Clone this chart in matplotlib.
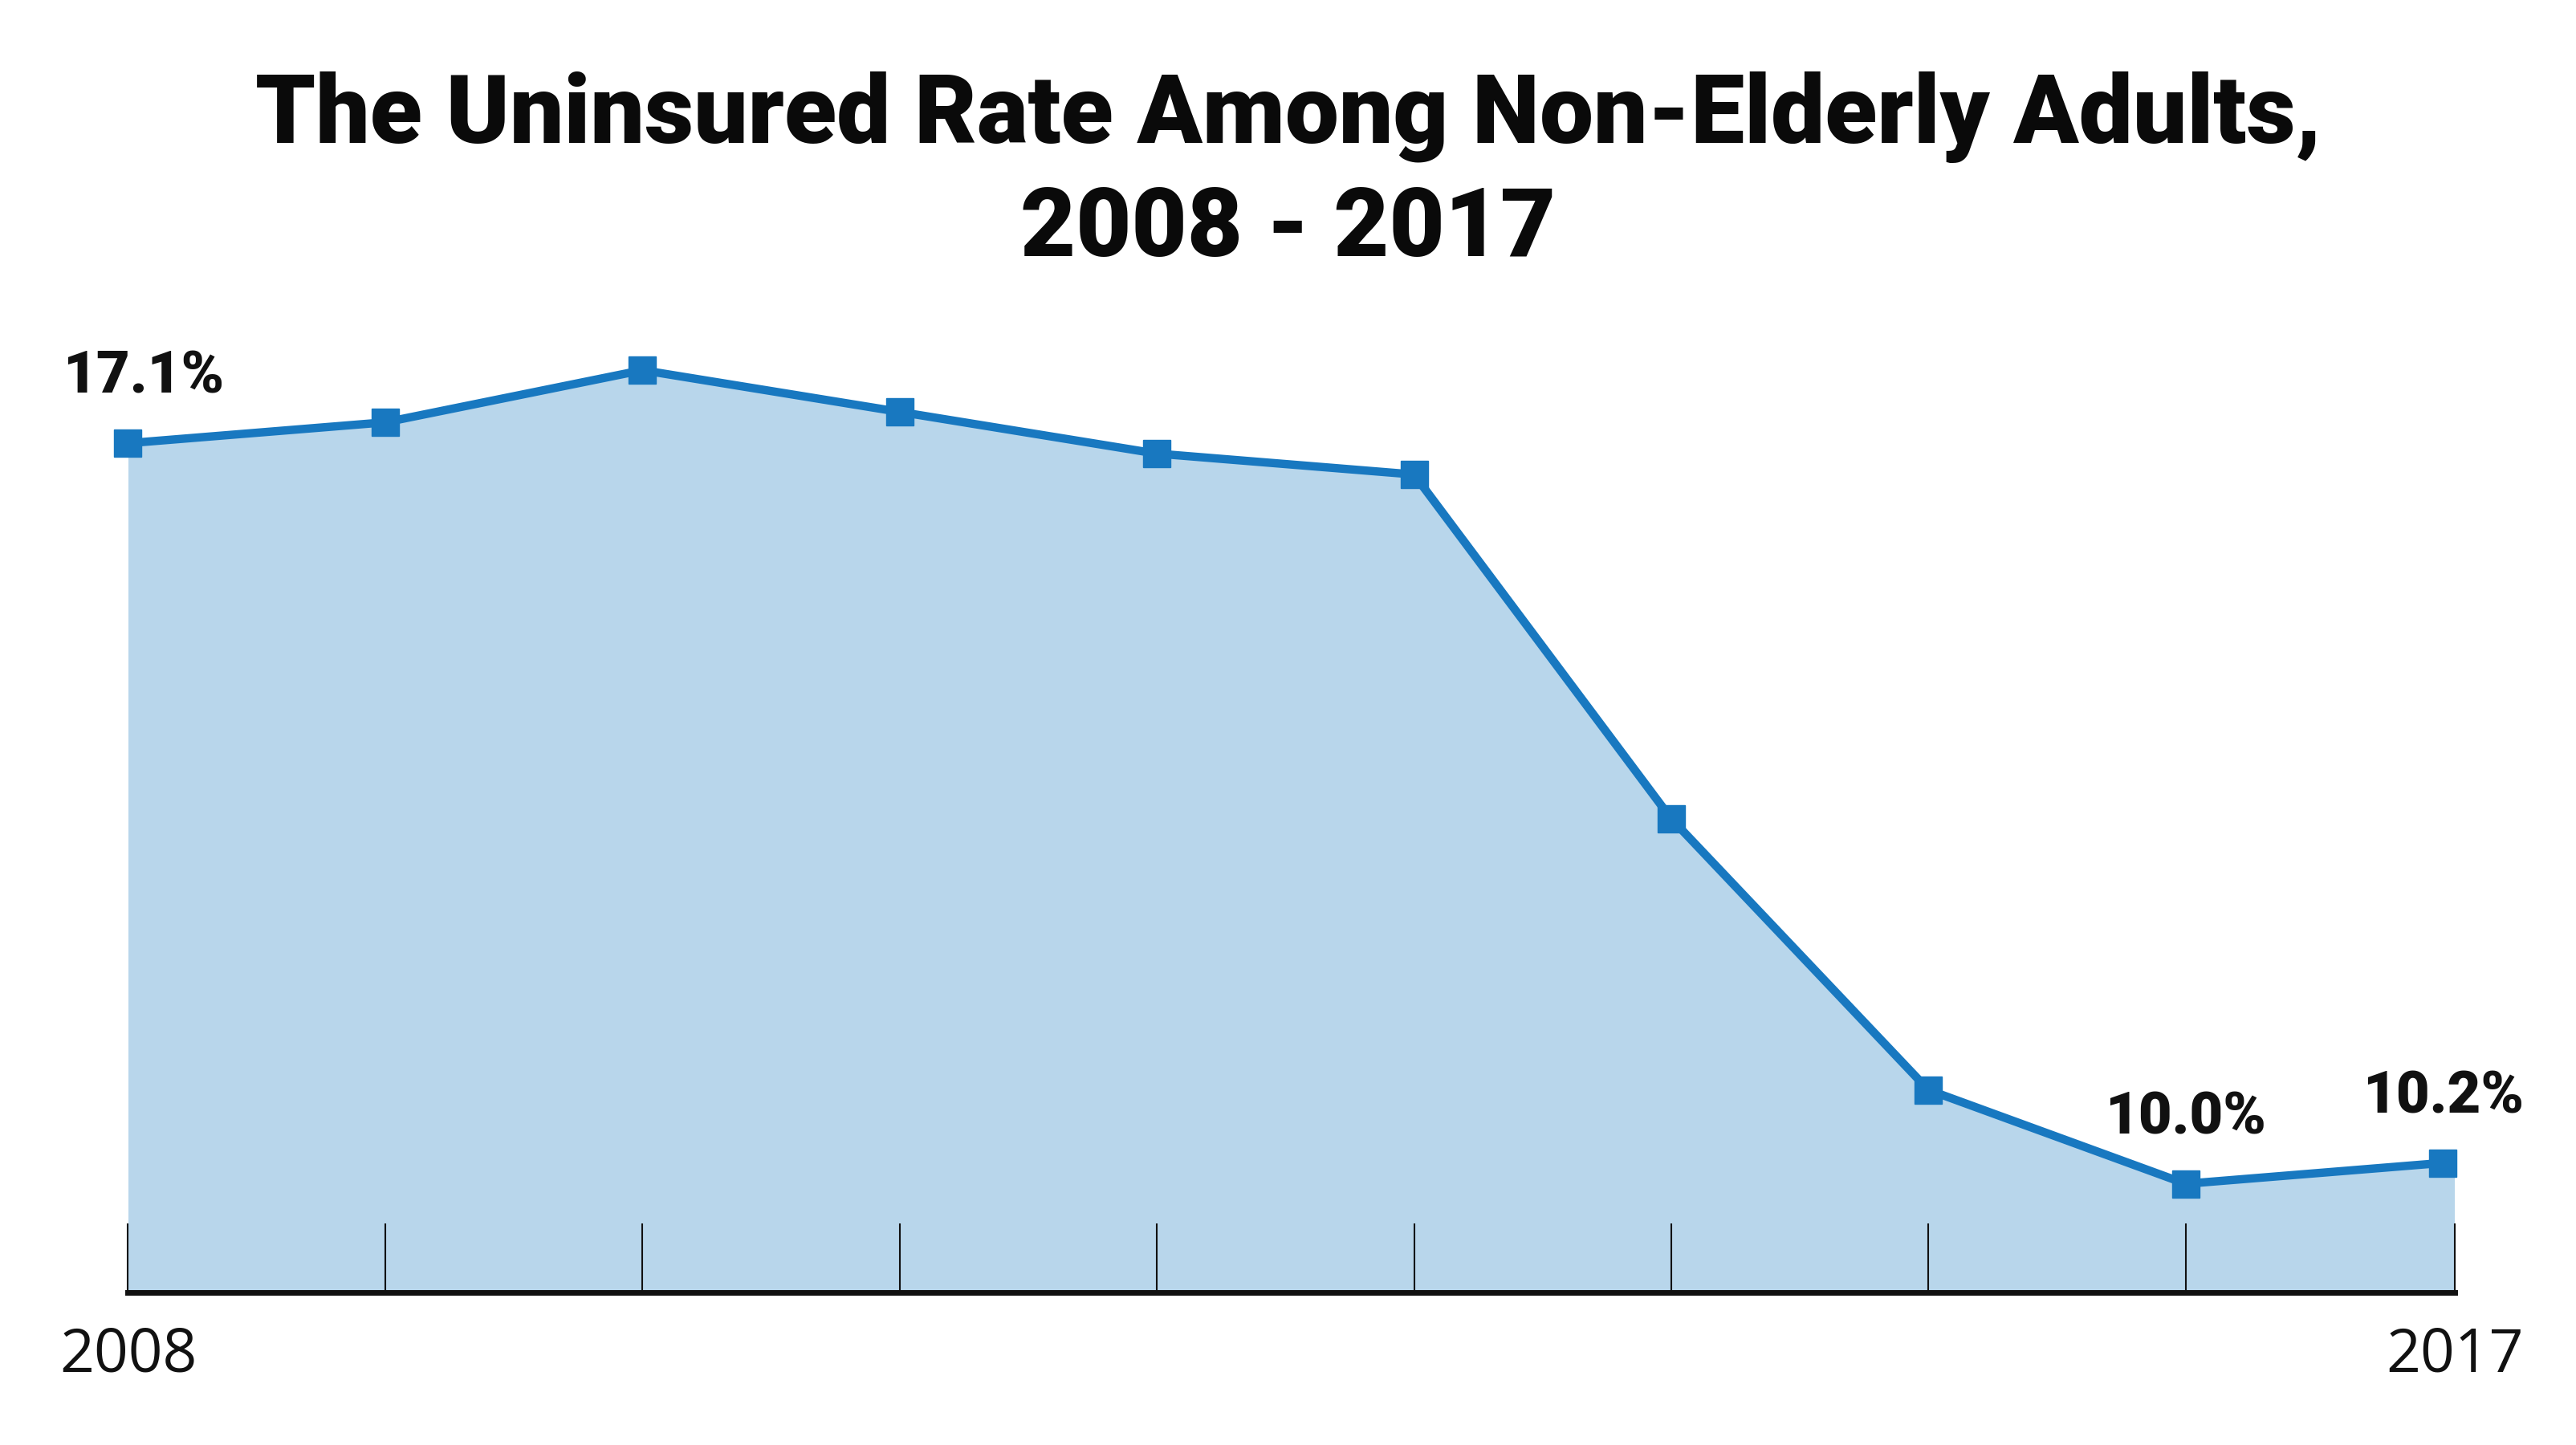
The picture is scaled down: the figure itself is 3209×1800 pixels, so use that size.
import numpy as np
import matplotlib
matplotlib.use('Agg')
import matplotlib.pyplot as plt

years = [2008, 2009, 2010, 2011, 2012, 2013, 2014, 2015, 2016, 2017]
rates = [17.1, 17.3, 17.8, 17.4, 17.0, 16.8, 13.5, 10.9, 10.0, 10.2]
labelled = {2008: '17.1%', 2016: '10.0%', 2017: '10.2%'}
tick_labels = ['2008', '', '', '', '', '', '', '', '', '2017']

line_color = '#1878c0'
fill_color = '#b8d6eb'

fig = plt.figure(figsize=(32.09, 18), dpi=100)
ax = fig.add_axes([0.0497, 0.1057, 0.9031, 0.667])

x_right = 2017.045
ax.set_xlim(years[0], x_right)
ax.set_ylim(8.96, 18.2)

# fill runs to the right edge of the axis
fill_x = np.append(years, x_right)
fill_y = np.append(rates, rates[-1])
ax.fill_between(fill_x, fill_y, 8.96, color=fill_color, linewidth=0, zorder=1)
ax.plot(years, rates, color=line_color, linewidth=7.5, marker='s',
        markersize=24, zorder=3, clip_on=False)

for yr, txt in labelled.items():
    v = rates[years.index(yr)]
    dx = 0.06 if yr == 2008 else 0.0
    ax.annotate(txt, (yr + dx, v), xytext=(0, 34), textcoords='offset points',
                ha='center', va='bottom', fontsize=52, fontweight='heavy',
                family='Roboto', color='#111111')

for s in ['top', 'left', 'right']:
    ax.spines[s].set_visible(False)
ax.spines['bottom'].set_linewidth(5)
ax.spines['bottom'].set_color('#111111')
ax.set_yticks([])

ticks = years[:-1] + [x_right]
ax.set_xticks(ticks)
ax.set_xticklabels(tick_labels, fontsize=54, family='Open Sans', color='#111111')
ax.tick_params(axis='x', direction='in', length=62, width=1.5, color='#111111', pad=30)

fig.text(0.5, 0.88, 'The Uninsured Rate Among Non-Elderly Adults,\n2008 - 2017',
         ha='center', va='center', fontsize=86, fontweight='black',
         family='Roboto', color='#0a0a0a', linespacing=1.3)

fig.savefig('out.png', dpi=100)
